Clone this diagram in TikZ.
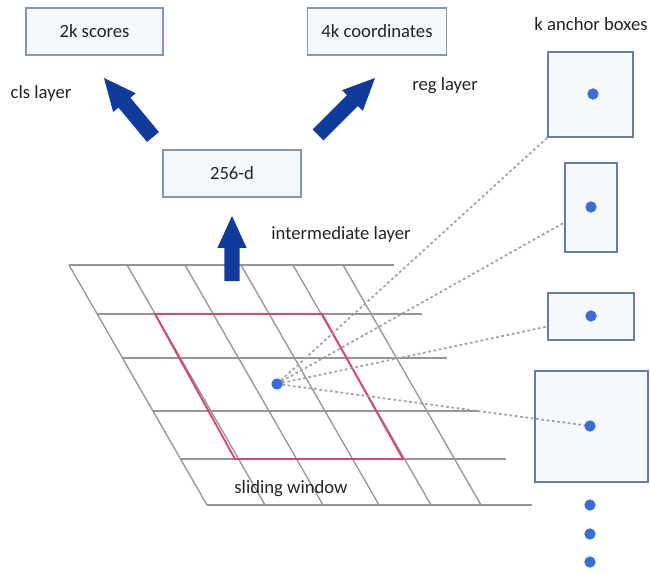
\documentclass[tikz,border=0pt]{standalone}
\usepackage{fontspec}
\setmainfont{Carlito}
\usetikzlibrary{calc}
\definecolor{arrowblue}{RGB}{16,58,156}
\definecolor{dotblue}{RGB}{58,110,214}
\definecolor{gridgray}{RGB}{150,150,150}
\definecolor{winred}{RGB}{214,70,110}
\definecolor{boxedge}{RGB}{135,150,176}
\definecolor{anchoredge}{RGB}{105,125,158}
\definecolor{boxfill}{RGB}{245,248,253}
\definecolor{txt}{RGB}{35,35,35}
\definecolor{dotline}{RGB}{160,160,160}
\newcommand{\blockarrow}[2]{%
  \coordinate (bh) at ($(#2)!24pt!(#1)$);
  \fill[arrowblue] ($(#1)!5.8pt!90:(#2)$) -- ($(bh)!5.8pt!90:(#2)$) -- ($(bh)!11pt!90:(#2)$) -- (#2)
    -- ($(bh)!11pt!-90:(#2)$) -- ($(bh)!5.8pt!-90:(#2)$) -- ($(#1)!5.8pt!-90:(#2)$) -- cycle;}
\tikzset{
  x=0.75pt,y=-0.75pt,
  lbl/.style={text=txt,font=\fontsize{14}{17}\selectfont,inner sep=0pt},
  labelbox/.style={lbl,draw=boxedge,line width=1pt,fill=boxfill,minimum height=35.25pt},
  anchorbox/.style={draw=anchoredge,line width=1pt,fill=boxfill,inner sep=0pt},
  bluedot/.style={circle,fill=dotblue,minimum size=8.5pt,inner sep=0pt},
  gridline/.style={draw=gridgray,line width=1pt},
  window/.style={draw=winred,line width=1.4pt,line join=miter},
  dotted link/.style={draw=dotline,line width=1.3pt,dash pattern=on 2pt off 2pt}
}
\begin{document}
\begin{tikzpicture}
\useasboundingbox (0,0) rectangle (650,574);
% grid: horizontal lines
\foreach \y in {265,314,358,411,459,505}{
  \draw[gridline] ({69+0.575*(\y-265)},\y) -- ({69+0.575*(\y-265)+325},\y);
}
% grid: slanted lines
\foreach \x in {69,127,185,241,293,343}{
  \draw[gridline] (\x,265) -- ({\x+138},505);
}
% sliding window
\draw[window] (155,314) -- (322,314) -- (403,459) -- (235,459) -- cycle;

% top boxes
\node[labelbox,minimum width=102.75pt] (scores) at (94.5,31.5) {2k scores};
\node[labelbox,minimum width=104.25pt] (coords) at (377,31.5) {4k coordinates};
\node[labelbox,minimum width=103.5pt] (inter) at (232,173.5) {256-d};

% labels
\node[lbl] (clsl) at (41,94) {cls layer};
\node[lbl] (regl) at (445,86) {reg layer};
\node[lbl] (kab) at (591,24) {k anchor boxes};
\node[lbl] (interl) at (341,235) {intermediate layer};
\node[lbl] (slide) at (291,489) {sliding window};

% block arrows
\coordinate (upT) at (232,281);
\coordinate (upH) at (232,216);
\coordinate (clsT) at (153,137);
\coordinate (clsH) at (104,78);
\coordinate (regT) at (318,135);
\coordinate (regH) at (375,78);
\blockarrow{upT}{upH}
\blockarrow{clsT}{clsH}
\blockarrow{regT}{regH}

% anchor boxes
\node[anchorbox,minimum width=63.75pt,minimum height=63.75pt] (a1) at (590.5,94.5) {};
\node[anchorbox,minimum width=39pt,minimum height=66.75pt] (a2) at (591,207.5) {};
\node[anchorbox,minimum width=64.5pt,minimum height=35.25pt] (a3) at (591,316.5) {};
\node[anchorbox,minimum width=84.75pt,minimum height=83.25pt] (a4) at (591.5,426.5) {};

% dotted links
\coordinate (c) at (277,384);
\draw[dotted link] (c) -- (a1.south west);
\draw[dotted link] (c) -- ($(a2.west)+(0,15)$);
\draw[dotted link] (c) -- ($(a3.west)+(0,10)$);
\draw[dotted link] (c) -- (590,426);

% dots
\node[bluedot] (cdot) at (c) {};
\node[bluedot] (d1) at (593,94) {};
\node[bluedot] (d2) at (591,207) {};
\node[bluedot] (d3) at (591,316) {};
\node[bluedot] (d4) at (590,426) {};
\node[bluedot] (e1) at (590,505) {};
\node[bluedot] (e2) at (590,534) {};
\node[bluedot] (e3) at (590,562) {};
\end{tikzpicture}
\end{document}
